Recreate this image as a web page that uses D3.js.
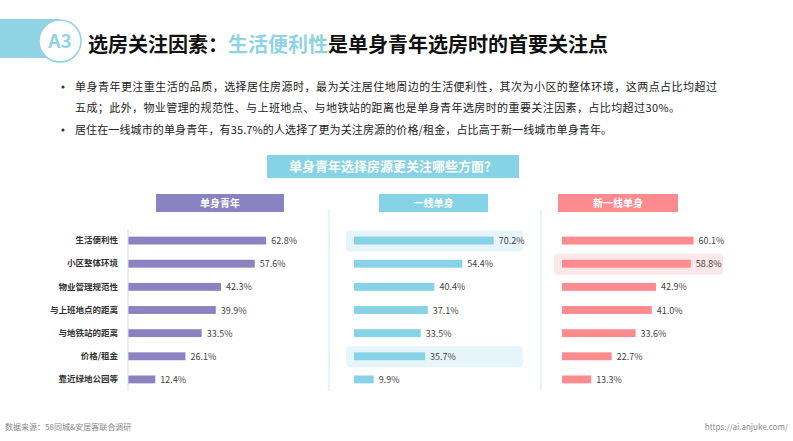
<!DOCTYPE html>
<html>
<head>
<meta charset="utf-8">
<style>
  body { margin: 0; background: #fff; }
  svg { display: block; font-family: "Noto Sans CJK SC", "Noto Sans", sans-serif; }
</style>
</head>
<body>
<div id="chart"></div>
<script src="https://cdn.jsdelivr.net/npm/d3@7"></script>
<script>
var factors = ["生活便利性", "小区整体环境", "物业管理规范性", "与上班地点的距离", "与地铁站的距离", "价格/租金", "靠近绿地公园等"];
var groups = ["单身青年", "一线单身", "新一线单身"];
var singleAll = [62.8, 57.6, 42.3, 39.9, 33.5, 26.1, 12.4];
var firstTier = [70.2, 54.4, 40.4, 37.1, 33.5, 35.7, 9.9];
var newFirstTier = [60.1, 58.8, 42.9, 41.0, 33.6, 22.7, 13.3];
var highlights = [[], [0, 5], [1]];

var w = 793, h = 441;
var svg = d3.select("#chart").append("svg").attr("width", w).attr("height", h);

// header band + badge
svg.append("rect").attr("x", 0).attr("y", 19).attr("width", 60).attr("height", 39).attr("fill", "#8fd3e4");
svg.append("circle").attr("cx", 60).attr("cy", 41).attr("r", 21)
  .attr("fill", "#fff").attr("stroke", "#8fd3e4").attr("stroke-width", 1.5);
svg.append("text").attr("x", 60).attr("y", 48).attr("text-anchor", "middle")
  .attr("font-size", 19).attr("font-weight", "bold").attr("fill", "#8fd3e4").text("A3");

var title = svg.append("text").attr("x", 88).attr("y", 52).attr("font-size", 20).attr("font-weight", "bold").attr("fill", "#111");
title.append("tspan").text("选房关注因素：");
title.append("tspan").attr("fill", "#8fd3e4").text("生活便利性");
title.append("tspan").text("是单身青年选房时的首要关注点");

// bullets: x, baseline, text, dot, line width
var bullets = [
  [75, 91, "单身青年更注重生活的品质，选择居住房源时，最为关注居住地周边的生活便利性，其次为小区的整体环境，这两点占比均超过", true, 642],
  [75, 112, "五成；此外，物业管理的规范性、与上班地点、与地铁站的距离也是单身青年选房时的重要关注因素，占比均超过30%。", false, 605],
  [75, 134, "居住在一线城市的单身青年，有35.7%的人选择了更为关注房源的价格/租金，占比高于新一线城市单身青年。", true, 537]
];
bullets.forEach(function (b) {
  svg.append("text").attr("x", b[0]).attr("y", b[1]).attr("font-size", 11).attr("fill", "#222")
    .attr("textLength", b[4]).attr("lengthAdjust", "spacing").text(b[2]);
  if (b[3]) svg.append("circle").attr("cx", 63).attr("cy", b[1] - 4).attr("r", 1.6).attr("fill", "#333");
});

// chart title
svg.append("rect").attr("x", 267).attr("y", 155).attr("width", 252).attr("height", 23).attr("fill", "#86d2e6");
svg.append("text").attr("x", 393).attr("y", 171).attr("text-anchor", "middle").attr("font-size", 13)
  .attr("font-weight", "bold").attr("fill", "#fff").text("单身青年选择房源更关注哪些方面？");

// panels
var panels = [
  { data: singleAll, x0: 128, k: 2.2, color: "#8b82c2", hl: "#ece9f6", head: [156, 128] },
  { data: firstTier, x0: 354, k: 1.99, color: "#86d2e6", hl: "#e6f5fa", head: [379, 109] },
  { data: newFirstTier, x0: 562, k: 2.19, color: "#fb8b8f", hl: "#fde7e8", head: [558, 120] }
];
var y = d3.scaleBand().domain(factors).range([229, 391]).paddingInner(0.66).paddingOuter(0.33);

panels.forEach(function (p, gi) {
  var x = d3.scaleLinear().domain([0, 100]).range([p.x0, p.x0 + 100 * p.k]);
  var g = svg.append("g");

  g.append("rect").attr("x", p.head[0]).attr("y", 194).attr("width", p.head[1]).attr("height", 18).attr("fill", p.color);
  g.append("text").attr("x", p.head[0] + p.head[1] / 2).attr("y", 207).attr("text-anchor", "middle")
    .attr("font-size", 10).attr("font-weight", "bold").attr("fill", "#fff").text(groups[gi]);

  highlights[gi].forEach(function (i) {
    var cy = y(factors[i]) + y.bandwidth() / 2;
    var x2 = gi === 1 ? 523 : 723;
    g.append("rect").attr("x", p.x0 - 8).attr("y", cy - 10).attr("width", x2 - p.x0 + 8).attr("height", 21)
      .attr("rx", 4).attr("fill", p.hl);
  });

  g.selectAll(".bar").data(p.data).enter().append("rect")
    .attr("x", x(0))
    .attr("y", function (d, i) { return y(factors[i]); })
    .attr("width", function (d) { return x(d) - x(0); })
    .attr("height", y.bandwidth())
    .attr("fill", p.color);

  g.selectAll(".val").data(p.data).enter().append("text")
    .attr("x", function (d) { return x(d) + 5; })
    .attr("y", function (d, i) { return y(factors[i]) + y.bandwidth() / 2 + 3.5; })
    .attr("font-size", 9).attr("fill", "#444")
    .text(function (d) { return d.toFixed(1) + "%"; });

  if (gi === 0) {
    var axis = d3.axisLeft(y).tickSize(0).tickPadding(10);
    var ag = g.append("g").attr("transform", "translate(" + p.x0 + ",0)").call(axis);
    ag.select(".domain").attr("stroke", "#ddd").attr("d", "M0,229V391");
    ag.selectAll("text").attr("font-size", 8.5).attr("font-weight", "bold").attr("fill", "#333")
      .attr("font-family", "\"Noto Sans CJK SC\", sans-serif");
  }
});

// separators
[329, 541].forEach(function (sx) {
  svg.append("line").attr("x1", sx).attr("x2", sx).attr("y1", 210).attr("y2", 391)
    .attr("stroke", "#c9edf0").attr("stroke-width", 1);
});

// footer
svg.append("text").attr("x", 5).attr("y", 430).attr("font-size", 8).attr("fill", "#888").text("数据来源：58同城&安居客联合调研");
svg.append("text").attr("x", 788).attr("y", 430).attr("text-anchor", "end").attr("font-size", 8).attr("fill", "#888").text("https://ai.anjuke.com/");
</script>
</body>
</html>
